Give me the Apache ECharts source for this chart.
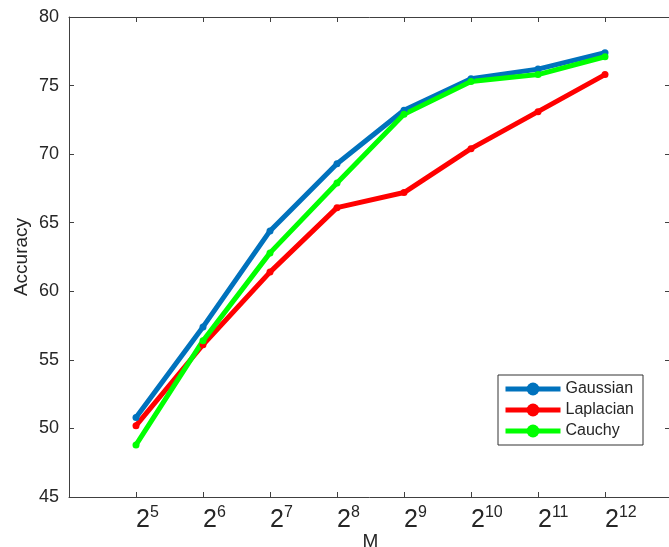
<!DOCTYPE html>
<html>
<head>
<meta charset="utf-8">
<script src="https://cdn.jsdelivr.net/npm/echarts@6/dist/echarts.min.js"></script>
<style>
  html, body { margin: 0; padding: 0; background: #fff; }
  #main { width: 669px; height: 547px; }
</style>
</head>
<body>
<div id="main"></div>
<script>
// x positions are exponents of 2 (M = 2^k)
var exponents = [5, 6, 7, 8, 9, 10, 11, 12];
var seriesNames = ['Gaussian', 'Laplacian', 'Cauchy'];
var gaussian = [50.8, 57.4, 64.4, 69.3, 73.2, 75.5, 76.2, 77.4];
var laplacian = [50.2, 56.1, 61.4, 66.1, 67.2, 70.4, 73.1, 75.8];
var cauchy = [48.8, 56.4, 62.8, 67.9, 72.9, 75.3, 75.8, 77.1];
var colors = ['#0072BD', '#FF0000', '#00FF00'];

var chart = echarts.init(document.getElementById('main'));

function pairs(arr) {
	var out = [];
	for (var i = 0; i < exponents.length; i++) {
		out.push([exponents[i], arr[i]]);
	}
	return out;
}

var axisLine = { show: true, lineStyle: { color: '#404040', width: 1 } };
var font = 'Liberation Sans, Arial, sans-serif';

function lineSeries(name, data, color) {
	return {
		name: name,
		type: 'line',
		data: pairs(data),
		symbol: 'circle',
		symbolSize: 7,
		lineStyle: { color: color, width: 5 },
		itemStyle: { color: color },
		z: 3
	};
}

var option = {
	animation: false,
	color: colors,
	grid: { left: 69, top: 17, right: -3, bottom: 50, outerBoundsMode: 'none', containLabel: false },
	legend: {
		data: seriesNames,
		orient: 'vertical',
		left: 498,
		top: 375,
		padding: [6, 9, 6, 5],
		itemGap: 5,
		itemWidth: 55,
		itemHeight: 16,
		borderColor: '#333',
		borderWidth: 1,
		borderRadius: 0,
		backgroundColor: '#fff',
		lineStyle: { width: 5 },
		itemStyle: { borderWidth: 0 },
		textStyle: { fontSize: 16, color: '#262626', fontFamily: font }
	},
	xAxis: [{
		type: 'value',
		min: 4,
		max: 13,
		interval: 1,
		name: 'M',
		nameLocation: 'middle',
		nameGap: 35,
		nameMoveOverlap: false,
		nameTextStyle: { fontSize: 19, color: '#262626', fontFamily: font },
		axisLine: axisLine,
		axisTick: { inside: true, length: 5, lineStyle: { color: '#404040' } },
		splitLine: { show: false },
		axisLabel: {
			margin: 8,
			align: 'left',
			color: '#262626',
			fontFamily: font,
			formatter: function (v) {
				if (v < 5 || v > 12) return '';
				return '{b|2}{s|' + v + '}';
			},
			rich: {
				b: { fontSize: 25, fontFamily: font, color: '#262626' },
				s: { fontSize: 16, fontFamily: font, color: '#262626', padding: [0, 0, 14, 0] }
			}
		}
	}, {
		type: 'value',
		position: 'top',
		min: 4,
		max: 13,
		interval: 1,
		axisLine: axisLine,
		axisTick: { inside: true, length: 5, lineStyle: { color: '#404040' } },
		axisLabel: { show: false },
		splitLine: { show: false }
	}],
	yAxis: [{
		type: 'value',
		min: 45,
		max: 80,
		interval: 5,
		name: 'Accuracy',
		nameLocation: 'middle',
		nameGap: 38,
		nameMoveOverlap: false,
		nameTextStyle: { fontSize: 19, color: '#262626', fontFamily: font },
		axisLine: axisLine,
		axisTick: { inside: true, length: 5, lineStyle: { color: '#404040' } },
		splitLine: { show: false },
		axisLabel: { fontSize: 18, color: '#262626', fontFamily: font, margin: 10 }
	}, {
		type: 'value',
		position: 'right',
		min: 45,
		max: 80,
		interval: 5,
		axisLine: axisLine,
		axisTick: { inside: true, length: 7, lineStyle: { color: '#404040' } },
		axisLabel: { show: false },
		splitLine: { show: false }
	}],
	series: [
		lineSeries('Gaussian', gaussian, colors[0]),
		lineSeries('Laplacian', laplacian, colors[1]),
		lineSeries('Cauchy', cauchy, colors[2])
	]
};

chart.setOption(option);
</script>
</body>
</html>
